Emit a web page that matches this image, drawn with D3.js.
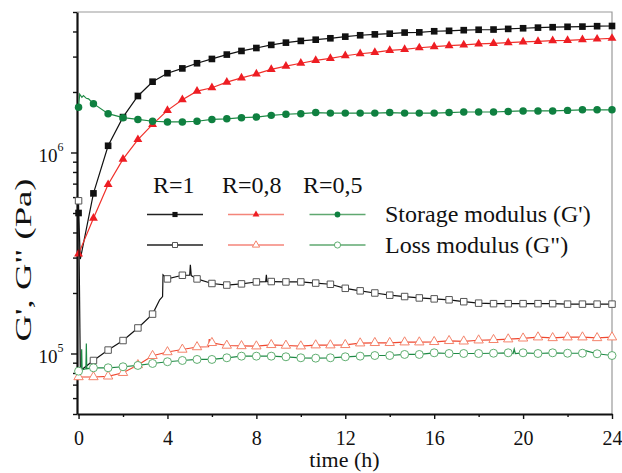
<!DOCTYPE html>
<html>
<head>
<meta charset="utf-8">
<script src="https://cdn.jsdelivr.net/npm/d3@7"></script>
<style>
	body { margin: 0; background: #fff; }
</style>
</head>
<body>
<svg id="chart"></svg>
<script>
// marker times (h)
const markerTimes = [0, 0.67, 1.33, 2, 2.67, 3.33, 4, 4.67, 5.33, 6, 6.67, 7.33, 8,
	8.67, 9.33, 10, 10.67, 11.33, 12, 12.67, 13.33, 14, 14.67, 15.33, 16,
	16.67, 17.33, 18, 18.67, 19.33, 20, 20.67, 21.33, 22, 22.67, 23.33, 24];

// storage modulus G' (Pa)
const storageR1 = [5.0e5, 6.26e5, 1.08e6, 1.5e6, 1.91e6, 2.25e6, 2.48e6, 2.62e6, 2.78e6, 2.92e6, 3.07e6, 3.2e6, 3.31e6,
	3.43e6, 3.52e6, 3.59e6, 3.64e6, 3.70e6, 3.77e6, 3.83e6, 3.87e6, 3.90e6, 3.95e6, 3.96e6, 4.01e6,
	4.03e6, 4.06e6, 4.08e6, 4.09e6, 4.12e6, 4.15e6, 4.18e6, 4.20e6, 4.22e6, 4.23e6, 4.25e6, 4.26e6];
const storageR08 = [3.13e5, 4.71e5, 6.93e5, 9.27e5, 1.16e6, 1.38e6, 1.62e6, 1.83e6, 2.02e6, 2.10e6, 2.24e6, 2.35e6, 2.46e6,
	2.59e6, 2.69e6, 2.78e6, 2.87e6, 2.94e6, 3.03e6, 3.10e6, 3.15e6, 3.22e6, 3.26e6, 3.32e6, 3.36e6,
	3.40e6, 3.43e6, 3.47e6, 3.49e6, 3.52e6, 3.55e6, 3.57e6, 3.60e6, 3.61e6, 3.64e6, 3.67e6, 3.70e6];
const storageR05 = [1.68e6, 1.75e6, 1.56e6, 1.49e6, 1.46e6, 1.43e6, 1.42e6, 1.42e6, 1.43e6, 1.46e6, 1.47e6, 1.49e6, 1.50e6,
	1.53e6, 1.55e6, 1.56e6, 1.58e6, 1.57e6, 1.57e6, 1.57e6, 1.57e6, 1.58e6, 1.57e6, 1.57e6, 1.57e6,
	1.58e6, 1.59e6, 1.59e6, 1.59e6, 1.60e6, 1.61e6, 1.61e6, 1.61e6, 1.62e6, 1.63e6, 1.63e6, 1.63e6];

// loss modulus G'' (Pa)
const lossR1 = [5.75e5, 9.23e4, 1.04e5, 1.16e5, 1.34e5, 1.57e5, 2.35e5, 2.45e5, 2.35e5, 2.23e5, 2.19e5, 2.22e5, 2.27e5,
	2.28e5, 2.27e5, 2.27e5, 2.24e5, 2.21e5, 2.11e5, 2.05e5, 2.00e5, 1.95e5, 1.92e5, 1.89e5, 1.87e5,
	1.85e5, 1.81e5, 1.78e5, 1.77e5, 1.77e5, 1.77e5, 1.77e5, 1.77e5, 1.76e5, 1.76e5, 1.76e5, 1.76e5];
const lossR08 = [7.64e4, 7.64e4, 7.7e4, 8.02e4, 8.77e4, 9.74e4, 1.017e5, 1.047e5, 1.077e5, 1.13e5, 1.096e5, 1.09e5, 1.087e5,
	1.104e5, 1.096e5, 1.087e5, 1.10e5, 1.10e5, 1.104e5, 1.125e5, 1.13e5, 1.13e5, 1.138e5, 1.138e5, 1.143e5,
	1.156e5, 1.15e5, 1.164e5, 1.17e5, 1.178e5, 1.19e5, 1.205e5, 1.195e5, 1.205e5, 1.205e5, 1.195e5, 1.205e5];
const lossR05 = [8.17e4, 8.49e4, 8.49e4, 8.59e4, 8.72e4, 8.92e4, 9.10e4, 9.23e4, 9.34e4, 9.34e4, 9.52e4, 9.7e4, 9.7e4,
	9.70e4, 9.63e4, 9.52e4, 9.48e4, 9.52e4, 9.63e4, 9.70e4, 9.77e4, 9.77e4, 9.89e4, 9.89e4, 1.008e5,
	1.0e5, 1.0e5, 1.0e5, 1.003e5, 1.008e5, 1.008e5, 1.0e5, 1.008e5, 1.003e5, 1.003e5, 9.97e4, 9.77e4];

// raw points between the markers (jumps and spikes), [t, value]
const storageR1Extra = [[0.08, 2.95e5]];
const storageR08Extra = [];
const storageR05Extra = [[0.05, 1.95e6], [0.15, 1.88e6], [0.22, 1.92e6], [0.35, 1.86e6], [0.45, 1.85e6]];
const lossR1Extra = [[0.08, 8.2e4], [3.65, 1.85e5], [3.78, 1.92e5], [3.8, 2.46e5], [5.0, 2.45e5], [5.03, 2.76e5],
	[5.07, 2.44e5], [8.42, 2.28e5], [8.45, 2.46e5], [8.48, 2.28e5]];
const lossR08Extra = [[5.85, 1.08e5], [5.88, 1.18e5], [5.92, 1.12e5]];
const lossR05Extra = [[0.12, 8.2e4], [0.14, 1.05e5], [0.16, 8.3e4], [0.33, 8.4e4], [0.35, 1.12e5], [0.37, 8.4e4],
	[19.55, 1.0e5], [19.6, 1.05e5], [19.65, 1.0e5], [22.7, 1.04e5]];

const xTicks = [0, 4, 8, 12, 16, 20, 24];
const xMinorTicks = [2, 6, 10, 14, 18, 22];
const yTicks = [1e5, 1e6];
const ratioLabels = ['R=1', 'R=0,8', 'R=0,5'];
const modulusLabels = ["Storage modulus (G')", 'Loss modulus (G")'];

const serif = '"Liberation Serif", serif';

class ModulusChart {
	constructor(_config, _data) {
		this.config = {
			parentElement: _config.parentElement,
			containerWidth: _config.containerWidth || 622,
			containerHeight: _config.containerHeight || 473,
			margin: _config.margin || { top: 12, right: 10, bottom: 59, left: 77 }
		}
		this.data = _data;
		this.initVis();
	}

	initVis() {
		let vis = this;

		vis.width = vis.config.containerWidth - vis.config.margin.left - vis.config.margin.right;
		vis.height = vis.config.containerHeight - vis.config.margin.top - vis.config.margin.bottom;

		vis.xScale = d3.scaleLinear()
			.domain([-0.07, 24])
			.range([0, vis.width]);

		vis.yScale = d3.scaleLog()
			.domain([5e4, 5e6])
			.range([vis.height, 0]);

		vis.svg = d3.select(vis.config.parentElement)
			.attr('width', vis.config.containerWidth)
			.attr('height', vis.config.containerHeight);

		vis.chart = vis.svg.append('g')
			.attr('transform', `translate(${vis.config.margin.left},${vis.config.margin.top})`);

		// grey frame on top and right
		vis.chart.append('path')
			.attr('d', `M0,0H${vis.width}V${vis.height}`)
			.attr('fill', 'none')
			.attr('stroke', '#9a9a9a')
			.attr('stroke-width', 1.2);

		vis.xMinorGroup = vis.chart.append('g').attr('transform', `translate(0,${vis.height})`);
		vis.xAxisGroup = vis.chart.append('g').attr('class', 'axis x-axis')
			.attr('transform', `translate(0,${vis.height})`);
		vis.yMinorGroup = vis.chart.append('g');
		vis.yAxisGroup = vis.chart.append('g').attr('class', 'axis y-axis');

		vis.seriesGroup = vis.chart.append('g');

		vis.svg.append('text')
			.attr('x', vis.config.margin.left + vis.width / 2)
			.attr('y', 467)
			.attr('text-anchor', 'middle')
			.attr('fill', '#111')
			.style('font-family', serif)
			.style('font-size', '22px')
			.text('time (h)');

		vis.svg.append('text')
			.attr('transform', 'translate(31,260) rotate(-90)')
			.attr('text-anchor', 'middle')
			.attr('textLength', 163)
			.attr('lengthAdjust', 'spacingAndGlyphs')
			.attr('fill', '#111')
			.style('font-family', serif)
			.style('font-size', '24px')
			.text('G\', G" (Pa)');
	}

	updateVis() {
		let vis = this;

		// marker points + raw points for the line
		vis.data.forEach(s => {
			s.markers = markerTimes.map((t, i) => ({ t: t, v: s.values[i] }));
			s.linePoints = s.markers.concat(s.extra.map(d => ({ t: d[0], v: d[1] })))
				.sort((a, b) => a.t - b.t);
		});

		vis.renderVis();
	}

	renderVis() {
		let vis = this;

		// axes
		vis.xAxis = d3.axisBottom(vis.xScale)
			.tickValues(xTicks)
			.tickSize(5)
			.tickSizeOuter(0)
			.tickPadding(12);
		vis.xAxisGroup.call(vis.xAxis);
		vis.xMinorGroup.call(d3.axisBottom(vis.xScale).tickValues(xMinorTicks).tickSize(3).tickFormat(''))
			.select('.domain').remove();

		vis.yAxis = d3.axisLeft(vis.yScale)
			.tickValues(yTicks)
			.tickSize(6)
			.tickSizeOuter(0)
			.tickPadding(7.5)
			.tickFormat(() => '10');
		vis.yAxisGroup.call(vis.yAxis);
		let minor = vis.yScale.ticks().filter(d => yTicks.indexOf(d) < 0);
		vis.yMinorGroup.call(d3.axisLeft(vis.yScale).tickValues(minor).tickSize(4).tickFormat(''))
			.select('.domain').remove();

		vis.chart.selectAll('.axis .domain')
			.attr('stroke', '#111')
			.attr('stroke-width', 2.2);
		vis.chart.selectAll('.tick line')
			.attr('stroke', '#111')
			.attr('stroke-width', 1.4);

		vis.xAxisGroup.selectAll('text')
			.style('font-family', serif)
			.style('font-size', '20px')
			.attr('fill', '#111');

		vis.yAxisGroup.selectAll('.tick text')
			.style('font-family', serif)
			.style('font-size', '19px')
			.attr('fill', '#111')
			.attr('dy', '0.48em')
			.append('tspan')
			.attr('dy', -11)
			.style('font-size', '12px')
			.text(d => Math.round(Math.log10(d)));

		// lines and markers
		const line = d3.line()
			.x(d => vis.xScale(d.t))
			.y(d => vis.yScale(d.v));

		const groups = vis.seriesGroup.selectAll('.series')
			.data(vis.data)
			.join('g')
				.attr('class', 'series');

		groups.append('path')
			.attr('d', d => line(d.linePoints))
			.attr('fill', 'none')
			.attr('stroke', d => d.lineColor)
			.attr('stroke-width', 1.2);

		groups.selectAll('.marker')
			.data(d => d.markers.map(m => ({ t: m.t, v: m.v, s: d })))
			.join('path')
				.attr('class', 'marker')
				.attr('transform', d => `translate(${vis.xScale(d.t)},${vis.yScale(d.v)})`)
				.attr('d', d => d3.symbol().type(d.s.symbol).size(d.s.size)())
				.attr('fill', d => d.s.fill)
				.attr('stroke', d => d.s.stroke)
				.attr('stroke-width', d => d.s.open ? 1 : 0);

		// legend
		const legend = vis.svg.append('g')
			.style('font-family', serif)
			.attr('fill', '#111');
		const colX = [175, 256, 337.5];
		const labelX = [153, 222, 303];
		ratioLabels.forEach((label, i) => {
			legend.append('text')
				.attr('x', labelX[i])
				.attr('y', 193)
				.style('font-size', '24px')
				.text(label);
		});
		const rowY = [214.5, 245];
		modulusLabels.forEach((label, r) => {
			legend.append('text')
				.attr('x', 385)
				.attr('y', rowY[r] + 7.5)
				.style('font-size', '24px')
				.text(label);
		});
		vis.data.forEach((s, i) => {
			let col = i % 3, row = Math.floor(i / 3);
			let cx = colX[col], cy = rowY[row];
			legend.append('line')
				.attr('x1', cx - 28).attr('x2', cx + 28)
				.attr('y1', cy).attr('y2', cy)
				.attr('stroke', s.legendColor)
				.attr('stroke-width', 1.3);
			legend.append('path')
				.attr('transform', `translate(${cx},${cy})`)
				.attr('d', d3.symbol().type(s.symbol).size(s.size * 0.6)())
				.attr('fill', s.fill)
				.attr('stroke', s.stroke)
				.attr('stroke-width', s.open ? 1 : 0);
		});
	}
}

const chartData = [
	{ values: storageR1, extra: storageR1Extra, symbol: d3.symbolSquare, size: 44, fill: '#111', stroke: '#111', lineColor: '#111', legendColor: '#222' },
	{ values: storageR08, extra: storageR08Extra, symbol: d3.symbolTriangle, size: 34, fill: '#ee1d23', stroke: '#ee1d23', lineColor: '#f0302a', legendColor: '#f4857a' },
	{ values: storageR05, extra: storageR05Extra, symbol: d3.symbolCircle, size: 44, fill: '#0f8040', stroke: '#0f8040', lineColor: '#1e8a45', legendColor: '#5fa870' },
	{ values: lossR1, extra: lossR1Extra, symbol: d3.symbolSquare, size: 42, fill: '#fff', stroke: '#555', lineColor: '#111', legendColor: '#222', open: true },
	{ values: lossR08, extra: lossR08Extra, symbol: d3.symbolTriangle, size: 38, fill: '#fff', stroke: '#f4836b', lineColor: '#f04830', legendColor: '#f4857a', open: true },
	{ values: lossR05, extra: lossR05Extra, symbol: d3.symbolCircle, size: 50, fill: '#fff', stroke: '#5fae70', lineColor: '#1e8a45', legendColor: '#5fa870', open: true }
];

const modulusChart = new ModulusChart({ parentElement: '#chart' }, chartData);
modulusChart.updateVis();
</script>
</body>
</html>
